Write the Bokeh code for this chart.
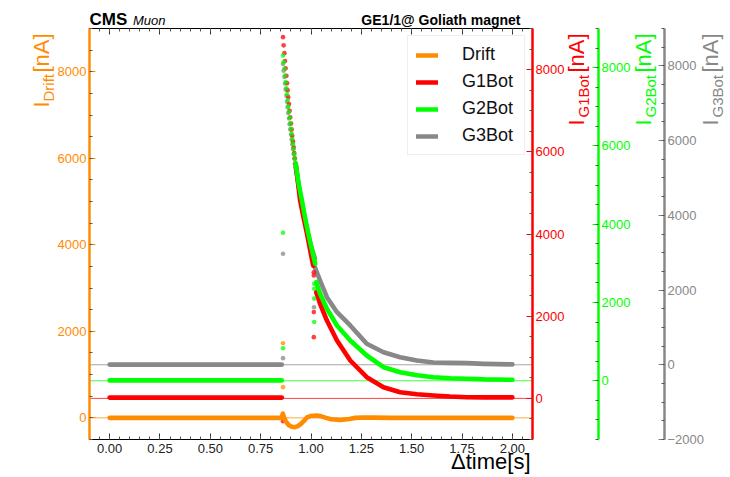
import math
from bokeh.plotting import figure
from bokeh.models import (Range1d, LinearAxis, Label, Legend, LegendItem, BoxAnnotation,
                          SingleIntervalTicker, NumeralTickFormatter, CustomJSTickFormatter)
from bokeh.embed import file_html
from bokeh.resources import INLINE

# ---------------- data ----------------
# Drift
drift_t = [0.0, 0.855, 0.860, 0.865, 0.875, 0.89, 0.905, 0.92, 0.935, 0.95, 0.965, 0.98,
           1.0, 1.03, 1.055, 1.075, 1.10, 1.145, 1.19, 1.22, 1.26, 1.30, 1.40, 2.0]
drift_v = [0, 0, 100, 20, -80, -170, -205, -215, -190, -140, -70, 10,
           45, 55, 30, 0, -30, -50, -25, 0, 10, 5, 0, 0]
drift_pts_t = [0.861, 0.861]
drift_pts_v = [1726, 710]

# sample times of the sparse (fast falling) part, shared by the three GEM traces
spike_t = [0.861, 0.864, 0.868, 0.871, 0.874, 0.878, 0.881, 0.884, 0.887, 0.891, 0.894,
           0.897, 0.901, 0.904, 0.907, 0.911, 0.914, 0.917, 0.920, 0.924, 0.927]
slow_t = [1.026, 1.045, 1.079, 1.129, 1.195, 1.277, 1.360, 1.443, 1.526, 1.608, 1.691,
          1.774, 1.860, 2.0]
base_t = [0.0, 0.855]

# G1Bot
g1_base_v = [20, 20]
g1_spike_v = [8790, 8590, 8400, 8210, 8030, 7850, 7670, 7500, 7330, 7160, 7000,
              6840, 6690, 6540, 6390, 6250, 6110, 5970, 5840, 5710, 5580]
g1_fast_t = [0.924, 0.946, 0.963, 0.980, 0.996, 1.011]
g1_fast_v = [5710, 4815, 4400, 4010, 3600, 3230]
g1_slow_v = [2584, 2302, 1895, 1409, 922, 516, 272, 151, 100, 71, 45, 29, 25, 25]
g1_pts_t = [0.861, 1.014, 1.014, 1.014, 1.014]
g1_pts_v = [-555, 3070, 2990, 2100, 1490]

# G2Bot
g2_base_v = [10, 10]
g2_spike_v = [8310, 8140, 7970, 7800, 7630, 7470, 7320, 7160, 7010, 6870, 6720,
              6580, 6440, 6310, 6170, 6050, 5920, 5790, 5670, 5550, 5440]
g2_fast_t = [0.924, 0.940, 0.955, 0.970, 0.985, 1.000, 1.021]
g2_fast_v = [5550, 5000, 4607, 4180, 3800, 3450, 2990]
g2_slow_v = [2519, 2223, 1840, 1413, 1030, 646, 347, 220, 140, 92, 65, 51, 35, 26]
g2_pts_t = [0.861, 0.861, 1.016, 1.016, 1.016, 1.016]
g2_pts_v = [3781, 833, 2480, 2350, 2100, 1500]

# G3Bot
g3_base_v = [5, 5]
g3_spike_v = [8050, 7870, 7700, 7530, 7370, 7200, 7040, 6890, 6740, 6590, 6440,
              6300, 6160, 6030, 5900, 5770, 5640, 5520, 5390, 5280, 5160]
g3_fast_t = [0.924, 0.951, 0.970, 0.985, 1.000, 1.019]
g3_fast_v = [5280, 4400, 3880, 3500, 3180, 2850]
g3_slow_t = [1.019] + slow_t[1:]
g3_slow_v = [2612, 2256, 1809, 1408, 1052, 562, 337, 203, 115, 62, 50, 43, 25, 10]
g3_pts_t = [0.861, 0.861, 1.015]
g3_pts_v = [2970, 177, 1540]

series_names = ["Drift", "G1Bot", "G2Bot", "G3Bot"]
x_lim = (-0.1, 2.1)
y_lim = {"default": (-500, 9000), "g1": (-1000, 9000), "g2": (-1500, 9000),
         "g3": (-2000, 9000)}
y_tick_step = 2000
x_tick_step = 0.25
zero_level = 0

# ---------------- style / layout ----------------
FONT = "Liberation Sans"
ORANGE = "#ff8c00"
RED = "#ff0000"
GREEN = "#00ff00"
GRAY = "#888888"
LW = 4.6
DOT = 4.6

W, H = 728, 475                    # canvas
FL, FT, FW, FH = 89, 28, 443, 411  # inner plot box (px)
X0, X1 = x_lim
SHIFT = 0.26                       # baseline correction (fraction of font size)


def x_at(px):
    return X0 + (px - FL) * (X1 - X0) / FW


def y_range_for(lo, hi):
    s = (hi - lo) / FH
    return Range1d(lo - (H - FT - FH) * s, hi + FT * s)


def yd(py):
    lo, hi = y_lim["default"]
    return hi - (py - FT) * (hi - lo) / FH


p = figure(width=W, height=H, min_border=0,
           x_range=Range1d(x_at(0), x_at(W)), y_range=y_range_for(*y_lim["default"]),
           output_backend="svg", toolbar_location=None,
           x_axis_location=None, y_axis_location=None)
p.extra_y_ranges = {k: y_range_for(*v) for k, v in y_lim.items() if k != "default"}
p.outline_line_color = None
p.background_fill_color = "white"
p.border_fill_color = "white"
p.xgrid.visible = False
p.ygrid.visible = False

# inner box outline
p.add_layout(BoxAnnotation(left=X0, right=X1, bottom=y_lim["default"][0],
                           top=y_lim["default"][1], fill_color=None,
                           line_color="black", line_width=1, level="underlay"))


def style_axis(ax, color, tick_color, label_color):
    ax.axis_line_color = color
    ax.major_tick_in = 6
    ax.major_tick_out = 0
    ax.minor_tick_in = 3
    ax.minor_tick_out = 0
    ax.major_tick_line_color = tick_color
    ax.minor_tick_line_color = "#555555"
    ax.major_label_text_font = FONT
    ax.major_label_text_font_size = "13px"
    ax.major_label_text_color = label_color
    ax.major_label_standoff = 3


# bottom axis
xa = LinearAxis(ticker=SingleIntervalTicker(interval=x_tick_step, num_minor_ticks=5),
                formatter=NumeralTickFormatter(format="0.00"),
                fixed_location=y_lim["default"][0], bounds=x_lim)
style_axis(xa, "black", "#333333", "#222222")
xa.major_label_standoff = 4
p.add_layout(xa, "below")

# top axis (ticks only)
ta = LinearAxis(ticker=SingleIntervalTicker(interval=x_tick_step, num_minor_ticks=5),
                formatter=CustomJSTickFormatter(code="return ''"),
                fixed_location=y_lim["default"][1], bounds=x_lim)
style_axis(ta, "black", "#333333", "#222222")
p.add_layout(ta, "above")

# left axis (Drift)
ya = LinearAxis(ticker=SingleIntervalTicker(interval=y_tick_step, num_minor_ticks=4),
                fixed_location=X0, bounds=y_lim["default"])
style_axis(ya, ORANGE, ORANGE, ORANGE)
ya.axis_line_width = 2.5
p.add_layout(ya, "left")

# right axes
for rn, col, px in [("g1", RED, FL + FW), ("g2", GREEN, 598), ("g3", GRAY, 664)]:
    ax = LinearAxis(y_range_name=rn,
                    ticker=SingleIntervalTicker(interval=y_tick_step, num_minor_ticks=4),
                    fixed_location=x_at(px), bounds=y_lim[rn])
    style_axis(ax, col, col, col)
    ax.axis_line_width = 2.5
    p.add_layout(ax, "right")

# zero lines
for rn, col in [("default", ORANGE), ("g1", RED), ("g2", GREEN), ("g3", GRAY)]:
    p.segment(x0=[X0], y0=[zero_level], x1=[X1], y1=[zero_level], line_color=col,
              line_width=1, line_alpha=0.75, y_range_name=rn)


def line(x, y, col, rn, lw=LW):
    return p.line(x, y, line_color=col, line_width=lw, line_cap="round",
                  line_join="round", y_range_name=rn)


def dots(x, y, col, rn):
    return p.scatter(x, y, marker="circle", size=DOT, fill_color=col, fill_alpha=0.75,
                     line_color=None, y_range_name=rn)


leg = {}
# G3Bot (gray) drawn first
line(base_t, g3_base_v, GRAY, "g3")
dots(spike_t, g3_spike_v, GRAY, "g3")
line(g3_fast_t, g3_fast_v, GRAY, "g3")
leg["G3Bot"] = line(g3_slow_t, g3_slow_v, GRAY, "g3")
dots(g3_pts_t, g3_pts_v, GRAY, "g3")
# G1Bot (red)
line(base_t, g1_base_v, RED, "g1")
dots(spike_t, g1_spike_v, RED, "g1")
line(g1_fast_t, g1_fast_v, RED, "g1")
leg["G1Bot"] = line(slow_t, g1_slow_v, RED, "g1")
dots(g1_pts_t, g1_pts_v, RED, "g1")
# G2Bot (green)
line(base_t, g2_base_v, GREEN, "g2")
dots(spike_t, g2_spike_v, GREEN, "g2")
line(g2_fast_t, g2_fast_v, GREEN, "g2")
leg["G2Bot"] = line(slow_t, g2_slow_v, GREEN, "g2")
dots(g2_pts_t, g2_pts_v, GREEN, "g2")
# Drift (orange)
leg["Drift"] = line(drift_t, drift_v, ORANGE, "default")
dots(drift_pts_t, drift_pts_v, ORANGE, "default")

legend = Legend(items=[LegendItem(label=n, renderers=[leg[n]]) for n in series_names],
                location=(407, H - 155), padding=8, spacing=6,
                glyph_width=22, glyph_height=18, label_height=18, label_standoff=24,
                label_width=54, label_text_font=FONT, label_text_font_size="18px",
                label_text_color="#111111", border_line_color="#dddddd",
                border_line_width=1, background_fill_alpha=1.0)
p.add_layout(legend, "center")


def text(txt, px, py, size, color, angle=0.0, align="left", style="normal"):
    if angle:
        px -= SHIFT * size
    else:
        py -= SHIFT * size
    p.add_layout(Label(x=x_at(px), y=yd(py), text=txt, text_font=FONT,
                       text_font_size=f"{size}px", text_color=color, angle=angle,
                       text_align=align, text_baseline="alphabetic",
                       text_font_style=style))


# titles
text("CMS", 89, 23.5, 17, "black", style="bold")
text("Muon", 132.5, 23.5, 13, "black", style="italic")
text("GE1/1@ Goliath magnet", 520, 23.5, 14, "black", align="right", style="bold")
text("\u0394time[s]", 530, 467, 22, "black", align="right")

# rotated axis titles: I_{sub}[nA]
UP = math.pi / 2
for base_x, sub, col, y_i, y_sub in [(47, "Drift", ORANGE, 107, 101),
                                     (582, "G1Bot", RED, 125, 117),
                                     (649, "G2Bot", GREEN, 125, 117),
                                     (716, "G3Bot", GRAY, 125, 117)]:
    text("I", base_x, y_i, 22, col, angle=UP)
    text(sub, base_x + 5, y_sub, 15, col, angle=UP)
    text("[nA]", base_x, 72, 22, col, angle=UP)

open("out.html", "w").write(file_html(p, INLINE))
